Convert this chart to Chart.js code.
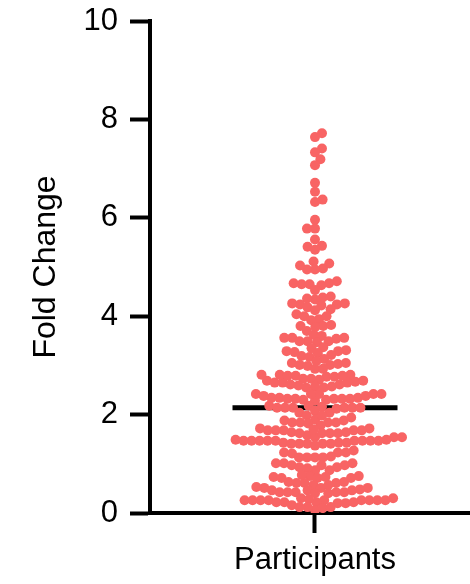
<!DOCTYPE html>
<html>
<head>
<meta charset="utf-8">
<script src="https://cdn.jsdelivr.net/npm/chart.js@4/dist/chart.umd.min.js"></script>
<style>
  html, body { margin: 0; padding: 0; background: #ffffff; overflow: hidden; }
  #wrap { width: 470px; height: 584px; }
</style>
</head>
<body>
<div id="wrap"><canvas id="chart" width="470" height="584"></canvas></div>
<script>
// Group shown on the x axis
const categoryLabel = 'Participants';
const yAxisTitle = 'Fold Change';
const yTickValues = [0, 2, 4, 6, 8, 10];

// Fold change measured for each participant
const foldChange = [
  7.72, 7.64, 7.41, 7.33, 7.19, 7.07, 6.71, 6.53, 6.37, 6.32, 5.96, 5.78, 5.78, 5.56, 5.43, 5.41, 5.35, 5.11,
  5.07, 4.97, 4.95, 4.95, 5.03, 4.65, 4.67, 4.71, 4.67, 4.65, 4.63, 4.53, 4.38, 4.34, 4.36, 4.40, 4.24, 4.24,
  4.26, 4.26, 4.18, 4.14, 4.22, 4.12, 4.04, 4.00, 3.94, 4.00, 3.92, 3.80, 3.80, 3.78, 3.82, 3.70,
  3.62, 3.56, 3.49, 3.60, 3.56, 3.56, 3.54, 3.49, 3.49, 3.47, 3.37, 3.31, 3.35, 3.29, 3.25, 3.21, 3.17, 3.29,
  3.19, 3.27, 3.13, 3.09, 3.05, 3.01, 3.05, 3.01, 3.03, 2.99, 2.93, 2.93,
  2.77, 2.73, 2.69, 2.67, 2.65, 2.79, 2.77, 2.81, 2.81, 2.79, 2.71, 2.81, 2.69, 2.73, 2.65, 2.79, 2.59, 2.55,
  2.57, 2.61, 2.65, 2.61, 2.55, 2.57,
  2.32, 2.28, 2.30, 2.34, 2.34, 2.42, 2.30, 2.32, 2.32, 2.34, 2.38, 2.42, 2.42, 2.42, 2.38, 2.42, 2.32, 2.32,
  2.14, 2.14, 2.14, 2.18, 2.14, 2.18, 2.14, 2.14, 2.08, 2.04, 2.04, 2.16, 2.12,
  1.90, 1.98, 1.98, 1.88, 1.94, 1.88, 1.84, 1.84, 1.82, 1.84, 1.84,
  1.64, 1.68, 1.72, 1.78, 1.58, 1.54, 1.68, 1.68, 1.62, 1.62, 1.68, 1.64, 1.62, 1.68, 1.72, 1.70, 1.62, 1.54,
  1.47, 1.49, 1.49, 1.43, 1.41, 1.41, 1.47, 1.47, 1.47, 1.43, 1.41, 1.41, 1.43, 1.41, 1.47, 1.47, 1.47, 1.47,
  1.54, 1.47, 1.37, 1.27,
  1.23, 1.23, 1.15, 1.13, 1.23, 1.21, 1.13, 1.13, 1.13, 1.01, 1.01, 0.97, 0.97, 0.93, 0.97, 0.93, 0.87, 0.91,
  0.87, 1.01, 0.75, 0.71, 0.73, 0.63, 0.61, 0.73, 0.75, 0.71, 0.63, 0.61, 0.71, 0.77, 0.61, 0.57,
  0.51, 0.51, 0.46, 0.42, 0.40, 0.42, 0.51, 0.46, 0.53, 0.57, 0.42, 0.40, 0.42, 0.42, 0.46, 0.48,
  0.26, 0.26, 0.20, 0.26, 0.22, 0.26, 0.22, 0.26, 0.30, 0.20, 0.26, 0.22, 0.16, 0.30, 0.22, 0.26, 0.26, 0.26, 0.28,
  0.06, 0.12, 0.10, 0.12, 0.12
];

// Median of the group, drawn as a horizontal bar
function medianOf(values) {
  const s = values.slice().sort((a, b) => a - b);
  const m = Math.floor(s.length / 2);
  return s.length % 2 ? s[m] : (s[m - 1] + s[m]) / 2;
}
const median = medianOf(foldChange);
const medianHalfWidth = 0.5;

const FONT = "'Liberation Sans', Arial, Helvetica, sans-serif";
const POINT_RADIUS = 5;
const SWARM_GAP = 8;   // minimum centre-to-centre distance between dots, px

const ctx = document.getElementById('chart').getContext('2d');
const chart = new Chart(ctx, {
  type: 'scatter',
  data: {
    datasets: [
      {
        label: categoryLabel,
        data: foldChange.map(v => ({ x: 0, y: v })),
        backgroundColor: '#F86464',
        borderWidth: 0,
        pointRadius: POINT_RADIUS,
        pointHoverRadius: POINT_RADIUS,
        order: 0
      },
      {
        type: 'line',
        label: 'Median',
        data: [{ x: -medianHalfWidth, y: median }, { x: medianHalfWidth, y: median }],
        borderColor: '#000000',
        borderWidth: 5,
        borderCapStyle: 'butt',
        pointRadius: 0,
        fill: false,
        order: 1
      }
    ]
  },
  options: {
    responsive: false,
    animation: false,
    devicePixelRatio: 1,
    layout: { autoPadding: false, padding: { top: 21, right: 0, bottom: 0, left: 0 } },
    plugins: { legend: { display: false }, tooltip: { enabled: false } },
    scales: {
      x: {
        type: 'linear',
        min: -1,
        max: 0.9394,
        afterBuildTicks: s => { s.ticks = [{ value: 0 }]; },
        afterFit: s => { s.height = 71; s.paddingLeft = 0; s.paddingRight = 0; },
        ticks: {
          callback: () => categoryLabel,
          autoSkip: false,
          maxRotation: 0,
          color: '#000000',
          padding: 9,
          font: { family: FONT, size: 31 }
        },
        grid: { drawOnChartArea: false, tickLength: 20, tickWidth: 4, color: '#000000' },
        border: { display: true, color: '#000000', width: 4 }
      },
      y: {
        min: 0,
        max: 10,
        afterBuildTicks: s => { s.ticks = yTickValues.map(v => ({ value: v })); },
        afterFit: s => { s.width = 150; s.paddingTop = 0; s.paddingBottom = 0; },
        ticks: {
          color: '#000000',
          padding: 12,
          font: { family: FONT, size: 31 }
        },
        grid: { drawOnChartArea: false, tickLength: 20, tickWidth: 4, color: '#000000' },
        border: { display: true, color: '#000000', width: 4 },
        title: {
          display: true,
          text: yAxisTitle,
          color: '#000000',
          font: { family: FONT, size: 32 },
          padding: { top: 27, bottom: 0 }
        }
      }
    }
  }
});

// Spread the dots sideways (beeswarm) so that none overlap too much,
// working in pixel space through the chart's own scales.
function layoutSwarm() {
  const xs = chart.scales.x, ys = chart.scales.y;
  const cx = xs.getPixelForValue(0);
  const order = foldChange.map((v, i) => i).sort((a, b) => foldChange[a] - foldChange[b]);
  const placed = [];
  const D2 = SWARM_GAP * SWARM_GAP;
  const dataX = new Array(foldChange.length);
  let flip = 1;
  for (const i of order) {
    const py = ys.getPixelForValue(foldChange[i]);
    const near = placed.filter(p => Math.abs(p.y - py) < SWARM_GAP);
    const cands = [0];
    for (const p of near) {
      const dx = Math.sqrt(D2 - (p.y - py) * (p.y - py));
      cands.push(p.x + dx, p.x - dx);
    }
    cands.sort((a, b) => (Math.abs(a) - Math.abs(b)) || (flip * (a - b)));
    let chosen = 0;
    for (const c of cands) {
      if (near.every(p => (p.x - c) * (p.x - c) + (p.y - py) * (p.y - py) >= D2 - 1e-6)) { chosen = c; break; }
    }
    flip = -flip;
    placed.push({ x: chosen, y: py });
    dataX[i] = xs.getValueForPixel(cx + chosen);
  }
  chart.data.datasets[0].data = foldChange.map((v, i) => ({ x: dataX[i], y: v }));
  chart.update();
}
layoutSwarm();
</script>
</body>
</html>
